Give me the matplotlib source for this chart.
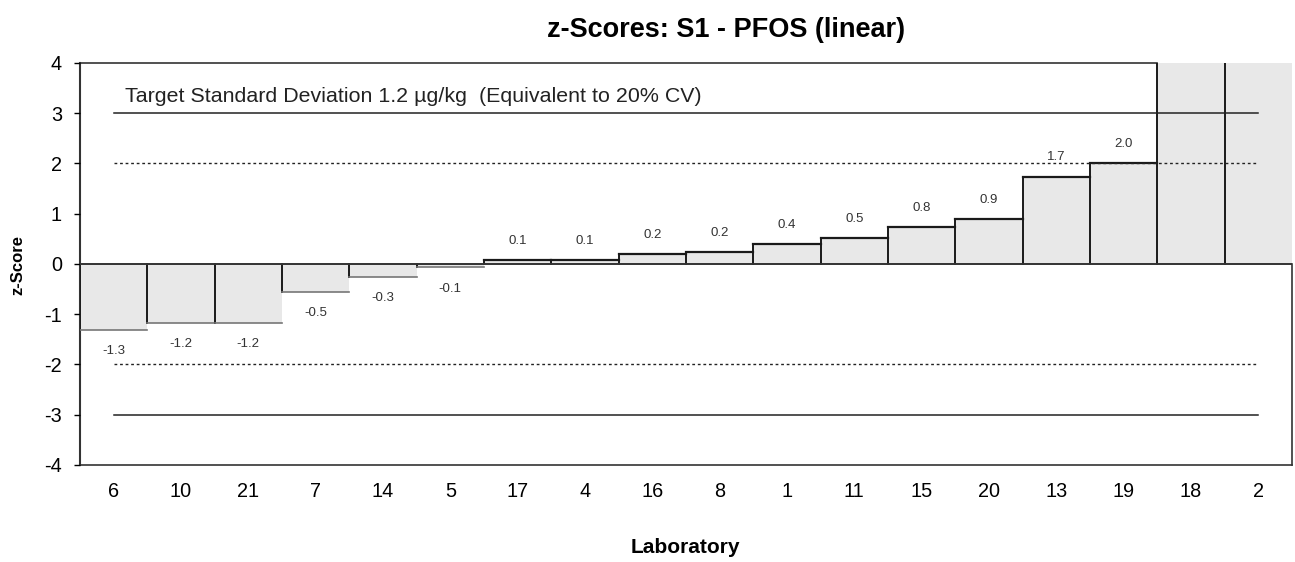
import numpy as np
import matplotlib.pyplot as plt

plt.rcParams['font.family'] = ['Liberation Sans', 'DejaVu Sans']
plt.rcParams['axes.unicode_minus'] = False

# z-scores per laboratory, sorted ascending (18 and 2 are off the scale)
labs = ['6', '10', '21', '7', '14', '5', '17', '4', '16', '8', '1', '11', '15', '20', '13', '19', '18', '2']
zscores = [-1.31, -1.17, -1.17, -0.55, -0.25, -0.07, 0.08, 0.08, 0.19, 0.24, 0.40, 0.52, 0.74, 0.90, 1.74, 2.00, 9.5, 12.0]
score_labels = ['-1.3', '-1.2', '-1.2', '-0.5', '-0.3', '-0.1', '0.1', '0.1', '0.2', '0.2', '0.4', '0.5', '0.8', '0.9', '1.7', '2.0', '', '']

target_sd = 1.2
cv = 20
ymin, ymax = -4, 4

fig = plt.figure(figsize=(12.95, 5.62), dpi=100)
ax = fig.add_axes([0.0618, 0.1726, 0.9359, 0.7154])

x = np.arange(len(labs))
ax.bar(x, zscores, width=1.0, color='#e8e8e8', edgecolor='none', zorder=2)

# step outline: dark left edges, tops of positive bars dark, bottoms of negatives grey
for xi, z in zip(x, zscores):
    ax.plot([xi - 0.5, xi - 0.5], [0, z], color='#1a1a1a', lw=1.4, zorder=3)
    if z > ymax:
        continue
    if z >= 0:
        ax.plot([xi - 0.5, xi + 0.5], [z, z], color='#1a1a1a', lw=1.6, zorder=3)
    else:
        ax.plot([xi - 0.5, xi + 0.5], [z, z], color='#777777', lw=1.2, zorder=3)

ax.axhline(0, color='#333333', lw=1.4, zorder=3)

# warning / action limits
ax.plot([x[0], x[-1]], [3, 3], color='#222222', lw=1.1, zorder=4)
ax.plot([x[0], x[-1]], [-3, -3], color='#222222', lw=1.1, zorder=4)
ax.plot([x[0], x[-1]], [2, 2], color='#222222', lw=1.0, ls=(0, (2, 2)), zorder=4)
ax.plot([x[0], x[-1]], [-2, -2], color='#222222', lw=1.0, ls=(0, (2, 2)), zorder=4)

for xi, z, s in zip(x, zscores, score_labels):
    if not s:
        continue
    off = 0.38 if z >= 0 else -0.42
    ax.text(xi, z + off, s, ha='center', va='center', fontsize=9.5, color='#333333', zorder=5)

ax.text(0.17, 3.33, 'Target Standard Deviation %.1f \u00b5g/kg  (Equivalent to %d%% CV)' % (target_sd, cv),
        ha='left', va='center', fontsize=15.4, color='#222222', zorder=5)

ax.set_xlim(-0.5, len(labs) - 0.5)
ax.set_ylim(ymin, ymax)
ax.set_yticks(range(ymin, ymax + 1))
ax.set_xticks(x)
ax.set_xticklabels(labs)
ax.tick_params(axis='x', length=0, pad=12, labelsize=14.3)
ax.tick_params(axis='y', length=4, width=1, pad=9, labelsize=14.3)

for side in ['top', 'bottom', 'left', 'right']:
    ax.spines[side].set_zorder(1)
    ax.spines[side].set_color('#333333')
ax.spines['left'].set_linewidth(1.5)
ax.spines['bottom'].set_linewidth(1.2)
ax.spines['top'].set_visible(False)
ax.spines['right'].set_visible(False)

# frame top runs only up to the first off-scale bar; right edge only below zero
first_off = next(i for i, z in enumerate(zscores) if z > ymax)
ax.plot([-0.5, first_off - 0.5], [ymax, ymax], color='#333333', lw=1.2, clip_on=False, zorder=1)
ax.plot([len(labs) - 0.5, len(labs) - 0.5], [ymin, 0], color='#333333', lw=1.2, clip_on=False, zorder=1)

fig.text(0.0135, 0.528, 'z-Score', rotation=90, ha='center', va='center', fontsize=12, fontweight='bold')
fig.text(0.529, 0.025, 'Laboratory', ha='center', va='center', fontsize=15, fontweight='bold')
fig.text(0.561, 0.947, 'z-Scores: S1 - PFOS (linear)', ha='center', va='center', fontsize=19.5, fontweight='bold')

fig.savefig('out.png', dpi=100)
